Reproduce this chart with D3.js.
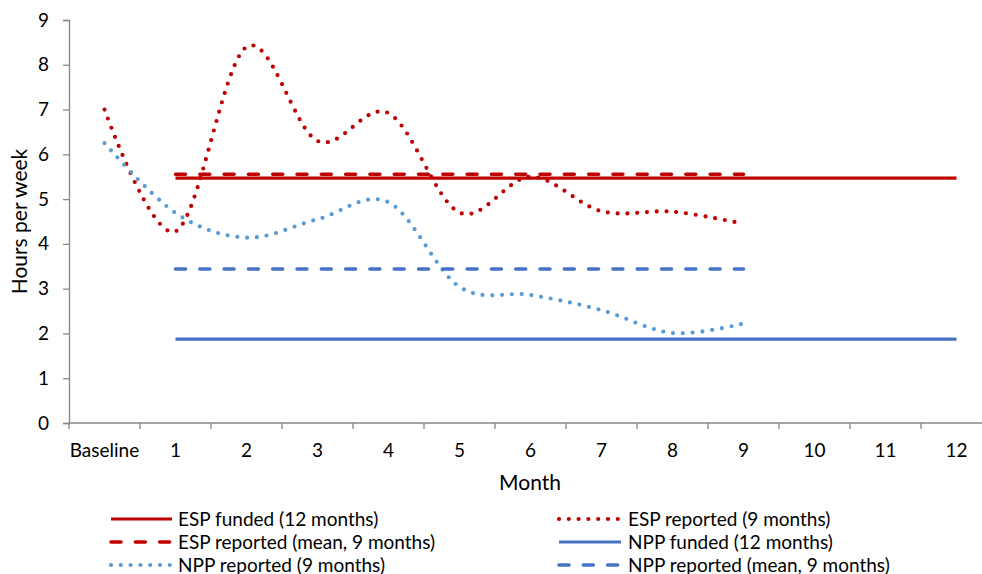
<!DOCTYPE html>
<html>
<head>
<meta charset="utf-8">
<script src="https://cdn.jsdelivr.net/npm/d3@7"></script>
<style>
  html, body { margin: 0; padding: 0; background: #fff; }
  svg { display: block; font-family: Lato, "Liberation Sans", sans-serif; }
</style>
</head>
<body>
<svg id="chart" width="982" height="574"></svg>
<script>
// Categories along the x axis
const categories = ["Baseline", "1", "2", "3", "4", "5", "6", "7", "8", "9", "10", "11", "12"];
const yTicks = [0, 1, 2, 3, 4, 5, 6, 7, 8, 9];

// Hours per week reported each month (Baseline + months 1-9)
const espReported = [7.0, 4.28, 8.4, 6.30, 6.92, 4.70, 5.50, 4.73, 4.72, 4.45];
const nppReported = [6.25, 4.69, 4.14, 4.55, 4.93, 3.04, 2.86, 2.52, 2.01, 2.22];

// Funded hours (flat, months 1-12) and reported means (months 1-9)
const espFunded = 5.47;
const nppFunded = 1.875;
const espMean = d3.mean(espReported.slice(1));
const nppMean = d3.mean(nppReported.slice(1));

const fundedMonths = categories.slice(1);        // 1..12
const reportedMonths = categories.slice(1, 10);  // 1..9

const series = [
  { name: "ESP funded (12 months)", cats: fundedMonths, values: fundedMonths.map(() => espFunded), color: "#C00000", style: "solid", smooth: false },
  { name: "ESP reported (9 months)", cats: categories.slice(0, 10), values: espReported, color: "#C00000", style: "dot", smooth: true },
  { name: "ESP reported (mean, 9 months)", cats: reportedMonths, values: reportedMonths.map(() => espMean), color: "#C00000", style: "dash", smooth: false },
  { name: "NPP funded (12 months)", cats: fundedMonths, values: fundedMonths.map(() => nppFunded), color: "#4472C4", style: "solid", smooth: false },
  { name: "NPP reported (9 months)", cats: categories.slice(0, 10), values: nppReported, color: "#5B9BD5", style: "dot", smooth: true },
  { name: "NPP reported (mean, 9 months)", cats: reportedMonths, values: reportedMonths.map(() => nppMean), color: "#4472C4", style: "dash", smooth: false }
];

const svg = d3.select("#chart");
const plotLeft = 69, plotTop = 20, plotBottom = 423;
const bandW = 71;

const x = d3.scaleBand().domain(categories).range([plotLeft, plotLeft + bandW * categories.length]);
const y = d3.scaleLinear().domain([0, 9]).range([plotBottom, plotTop]);
const cx = c => x(c) + x.bandwidth() / 2;

const axisColor = "#868686";
const textColor = "#000";
const labelSize = "19px";
const titleSize = "21px";

// Y axis
const yAxis = svg.append("g").attr("transform", `translate(${plotLeft},0)`)
  .call(d3.axisLeft(y).tickValues(yTicks).tickSize(6).tickPadding(14).tickFormat(d3.format("d")));
yAxis.select(".domain").attr("stroke", axisColor).attr("stroke-width", 1.3);
yAxis.selectAll(".tick line").attr("stroke", axisColor).attr("stroke-width", 1.3);
yAxis.selectAll(".tick text").attr("fill", textColor).style("font-size", labelSize).style("font-family", "Lato, sans-serif");

// X axis: tick marks sit on band boundaries, labels at band centres
const xg = svg.append("g");
xg.append("line")
  .attr("x1", plotLeft).attr("x2", x.range()[1])
  .attr("y1", plotBottom).attr("y2", plotBottom)
  .attr("stroke", axisColor).attr("stroke-width", 1.3);
xg.selectAll("line.tick").data(categories.concat(["__end"]))
  .join("line")
  .attr("class", "tick")
  .attr("x1", (d, i) => plotLeft + i * bandW).attr("x2", (d, i) => plotLeft + i * bandW)
  .attr("y1", plotBottom).attr("y2", plotBottom + 6)
  .attr("stroke", axisColor).attr("stroke-width", 1.3);
xg.selectAll("text").data(categories)
  .join("text")
  .attr("x", d => cx(d)).attr("y", plotBottom + 34)
  .attr("text-anchor", "middle")
  .attr("fill", textColor)
  .style("font-size", labelSize)
  .text(d => d);

// Axis titles
svg.append("text")
  .attr("transform", `translate(27,${(plotTop + plotBottom) / 2}) rotate(-90)`)
  .attr("text-anchor", "middle")
  .attr("fill", textColor)
  .style("font-size", titleSize)
  .text("Hours per week");
svg.append("text")
  .attr("x", 530).attr("y", 490)
  .attr("text-anchor", "middle")
  .attr("fill", textColor)
  .style("font-size", titleSize)
  .text("Month");

function strokeStyle(sel, s) {
  sel.attr("fill", "none").attr("stroke", s.color);
  if (s.style === "solid") {
    sel.attr("stroke-width", 3.2).attr("stroke-linecap", "butt");
  } else if (s.style === "dash") {
    sel.attr("stroke-width", 3.5).attr("stroke-linecap", "round").attr("stroke-dasharray", "10 14.3");
  } else {
    sel.attr("stroke-width", 4.2).attr("stroke-linecap", "round").attr("stroke-dasharray", "0 9.8");
  }
  return sel;
}

// Series lines
const plot = svg.append("g");
series.forEach(s => {
  const pts = s.cats.map((c, i) => [cx(c), y(s.values[i])]);
  const line = d3.line().curve(s.smooth ? d3.curveCardinal.tension(0) : d3.curveLinear);
  plot.append("path").attr("d", line(pts)).call(strokeStyle, s);
});

// Legend: two columns, filled row by row
const legendRows = [519, 542, 565];
const legendCols = [{ x1: 111, x2: 172, tx: 178 }, { x1: 559, x2: 621, tx: 628 }];
series.forEach((s, i) => {
  const col = legendCols[i % 2];
  const row = legendRows[Math.floor(i / 2)];
  const g = svg.append("g");
  g.append("path")
    .attr("d", `M${col.x1},${row}H${col.x2}`)
    .call(strokeStyle, s);
  g.append("text")
    .attr("x", col.tx).attr("y", row + 6.5)
    .attr("fill", textColor)
    .style("font-size", labelSize)
    .text(s.name);
});
</script>
</body>
</html>
